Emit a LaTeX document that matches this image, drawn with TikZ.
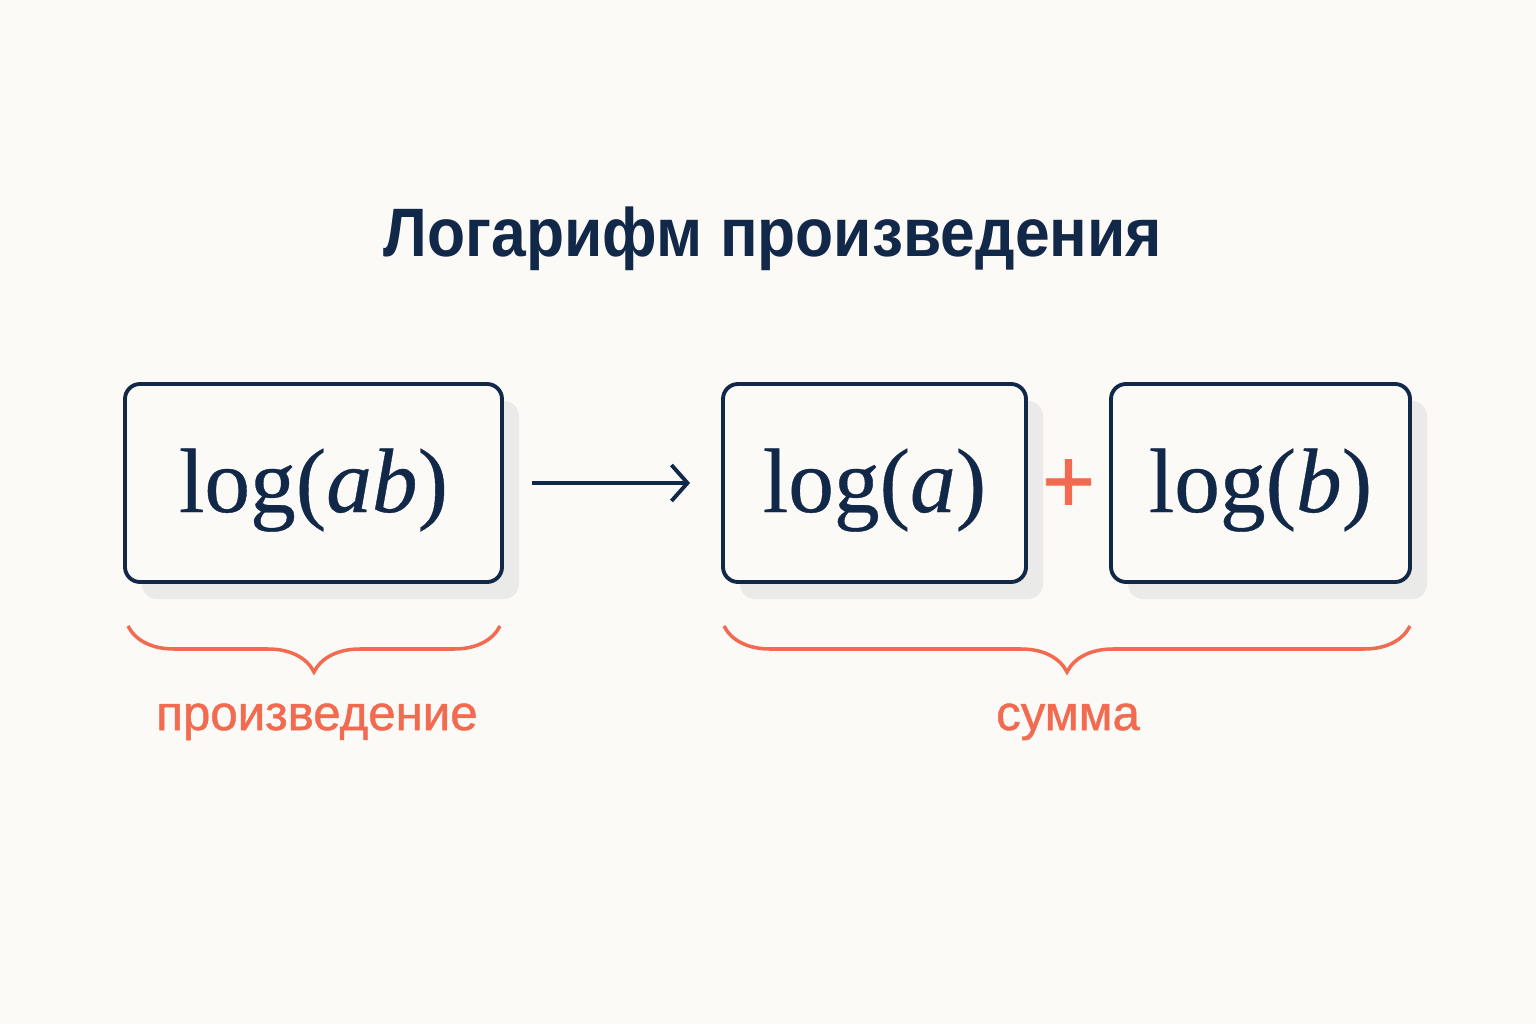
\documentclass[tikz,border=0pt]{standalone}
\usepackage{fontspec}
\setmainfont{Liberation Serif}[FakeBold=0.4]
\setsansfont{Liberation Sans}
\newfontfamily\titlefont{Liberation Sans Bold}[FakeStretch=0.91]
\newfontfamily\notefont{Liberation Sans}[FakeBold=1]
\usepackage{tikz}
\usetikzlibrary{positioning}
\usetikzlibrary{arrows.meta}
\usetikzlibrary{shadows}
\usetikzlibrary{decorations.pathreplacing}
\definecolor{inkblue}{HTML}{112848}
\definecolor{coral}{HTML}{F26B50}
\definecolor{paper}{HTML}{FCFAF6}
\definecolor{shade}{HTML}{EAEAE8}
\newcommand{\logof}[1]{log(\textit{#1})}

\begin{document}
\begin{tikzpicture}[
	box/.style={draw=inkblue,line width=1.1pt,rounded corners=0.15cm,fill=paper,
	  minimum height=1.98cm,text height=0.82cm,text depth=0.24cm,
	  text=inkblue,font=\fontsize{26}{30}\selectfont,
	  drop shadow={shadow xshift=0.17cm,shadow yshift=-0.17cm,fill=shade,opacity=1}},
	note/.style={text=coral,anchor=base,font=\notefont\fontsize{14}{16}\selectfont},
	curly/.style={draw=coral,line width=1pt,decorate,
	  decoration={brace,mirror,amplitude=0.46cm}}
]

	% page and its margins
	\fill[paper] (0,0) rectangle (15.36,10.24);
	\useasboundingbox (0,0) rectangle (15.36,10.24);

	\node[anchor=base,text=inkblue,font=\titlefont\fontsize{19.5}{24}\selectfont]
	  at (7.73,7.67) (title) {Логарифм произведения};

	%the three boxes
	\node[box,minimum width=3.77cm] at (3.135,5.41) (prod) {\logof{ab}};
	\node[box,minimum width=3.03cm] at (8.745,5.41) (sumA) {\logof{a}};
	\node[box,minimum width=2.99cm] at (12.605,5.41) (sumB) {\logof{b}};

	\draw[-{Straight Barb[length=1.6mm,width=3.6mm]},inkblue,line width=1.1pt,
	  shorten <=0.28cm,shorten >=0.31cm] (prod) -- (sumA);
	\node[text=coral,font=\notefont\fontsize{26}{28}\selectfont] at (10.685,5.38) (plus) {+};

	%    %braces and labels under them:
	\coordinate (prodL) at (1.28,3.98);
	\coordinate (prodR) at (5.00,3.98);
	\coordinate (sumL) at (7.24,3.98);
	\coordinate (sumR) at (14.10,3.98);
	\draw[curly] (prodL) -- (prodR);
	\draw[curly] (sumL) -- (sumR);

	\node[note] at (3.17,2.94) (prodlabel) {произведение};
	\node[note] at (10.68,2.94) (sumlabel) {сумма};

\end{tikzpicture}
\end{document}
